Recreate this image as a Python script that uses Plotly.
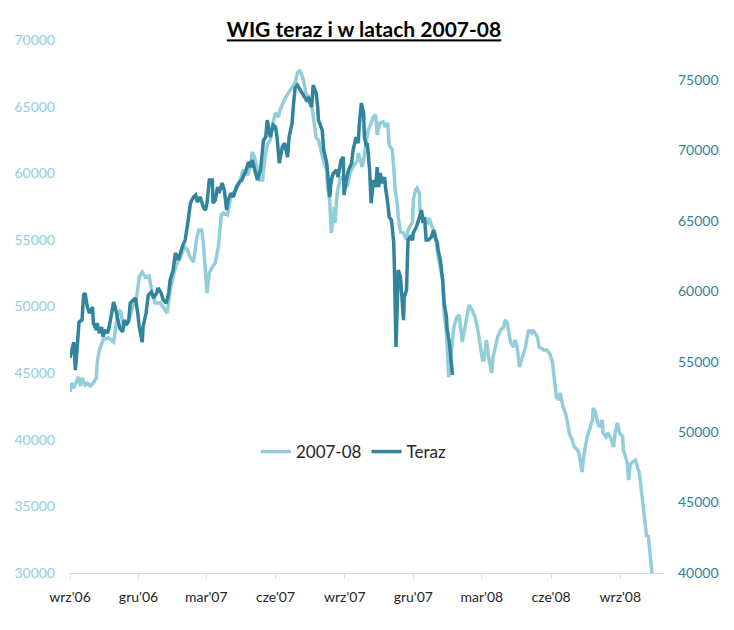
import pandas as pd
import plotly.graph_objects as go

# ---------------- data ----------------
start_date = "2006-09-01"

# 2007-08 series (left axis): day offset from start_date, WIG value
light_day = [
    0, 2, 5, 7, 11, 14, 16, 20, 23, 27,
    31, 35, 36, 39, 42, 44, 51, 58, 63, 67,
    71, 78, 83, 88, 92, 96, 100, 105, 109, 113,
    120, 124, 129, 133, 137, 141, 147, 152, 156, 160,
    164, 168, 171, 175, 177, 180, 182, 185, 189, 193,
    197, 201, 204, 209, 212, 214, 220, 224, 226, 230,
    236, 240, 242, 245, 249, 252, 256, 257, 260, 262,
    266, 269, 273, 277, 279, 283, 286, 290, 295, 299,
    302, 305, 307, 310, 313, 317, 319, 322, 325, 327,
    330, 335, 337, 341, 342, 345, 346, 347, 350, 351,
    352, 355, 359, 363, 368, 372, 376, 382, 383, 386,
    388, 390, 394, 396, 399, 403, 406, 408, 412, 416,
    419, 422, 424, 428, 430, 432, 435, 436, 439, 443,
    447, 449, 455, 456, 459, 461, 464, 465, 469, 475,
    477, 481, 485, 489, 495, 497, 500, 503, 505, 508,
    510, 514, 517, 520, 521, 524, 528, 530, 534, 538,
    541, 544, 548, 550, 553, 556, 560, 562, 565, 568,
    572, 576, 578, 581, 585, 589, 591, 594, 597, 601,
    605, 609, 613, 615, 621, 623, 629, 633, 637, 641,
    643, 646, 649, 651, 655, 658, 661, 663, 667, 670,
    674, 676, 680, 683, 687, 690, 694, 695, 698, 700,
    703, 707, 708, 712, 715, 719, 722, 724, 727, 730,
    734, 735, 738, 740, 742, 744, 747, 751, 754, 756,
    760, 763, 766, 768, 771, 773,
]
light_val = [
    43580, 44260, 43880, 44110, 44710, 44030, 44640, 44110, 44260, 44030,
    44260, 44640, 45760, 46730, 47110, 47490, 47640, 47340, 49360, 49740,
    48460, 48840, 49960, 50490, 52220, 52590, 52220, 52290, 51090, 50260,
    50260, 49960, 49510, 51240, 52220, 53120, 53720, 54470, 54240, 53640,
    53340, 55000, 55740, 55740, 54850, 52970, 51010, 52520, 52970, 53270,
    54470, 56870, 57020, 56870, 57620, 58370, 58750, 59120, 59500, 60250,
    59870, 60620, 61600, 61220, 60250, 59500, 59500, 60250, 61520, 62120,
    62500, 63630, 64530, 64230, 64750, 65280, 65650, 66020, 66480, 66770,
    67530, 67680, 67530, 66990, 66100, 65500, 65280, 64750, 63470, 62650,
    62500, 61220, 60850, 60250, 58970, 57990, 56720, 55520, 56720, 57470,
    56270, 58520, 59720, 59500, 58970, 60020, 60470, 61000, 61520, 61000,
    60470, 61000, 62500, 63250, 63630, 64230, 64380, 62880, 63780, 63860,
    63470, 63780, 62120, 61750, 60400, 58750, 57620, 56720, 55600, 55520,
    55000, 55740, 56350, 57990, 58750, 58900, 58520, 57100, 56500, 56270,
    56650, 55970, 55520, 53720, 52000, 49510, 48010, 44710, 45760, 47260,
    48460, 49210, 49360, 47860, 47340, 48240, 49740, 50110, 49740, 49210,
    48460, 47260, 45990, 45990, 47490, 46210, 45010, 46210, 46960, 47710,
    48240, 48460, 48990, 48760, 47340, 46960, 47490, 46960, 45460, 46210,
    46960, 48240, 48010, 48240, 47710, 46960, 46730, 46730, 46510, 45760,
    44710, 43210, 42980, 43510, 42460, 42010, 41260, 40510, 39990, 39460,
    39240, 39010, 37580, 39010, 40210, 40730, 41480, 42380, 42080, 41480,
    40960, 41480, 40510, 40210, 40510, 39990, 39460, 40510, 41260, 40510,
    40210, 39240, 38710, 38330, 36980, 38110, 38330, 38480, 37880, 37580,
    35700, 34350, 32700, 32850, 31130, 30000,
]

# "Teraz" series (right axis)
dark_day = [
    0, 3, 5, 6, 7, 8, 10, 12, 16, 18,
    20, 23, 26, 30, 31, 35, 36, 39, 42, 44,
    46, 50, 52, 56, 58, 60, 63, 66, 70, 72,
    75, 78, 80, 84, 87, 90, 92, 96, 97, 101,
    104, 108, 111, 115, 117, 121, 124, 128, 131, 133,
    137, 140, 144, 149, 153, 157, 160, 164, 167, 169,
    173, 177, 180, 182, 185, 189, 190, 193, 196, 198,
    202, 205, 208, 210, 214, 217, 221, 224, 228, 230,
    234, 237, 240, 242, 246, 249, 253, 257, 260, 262,
    266, 270, 273, 275, 278, 282, 285, 289, 291, 295,
    297, 299, 302, 306, 310, 314, 317, 321, 323, 327,
    329, 330, 335, 337, 341, 342, 345, 346, 348, 350,
    354, 356, 360, 363, 364, 367, 370, 374, 376, 380,
    383, 384, 387, 390, 391, 394, 395, 398, 400, 403,
    406, 408, 410, 412, 415, 418, 419, 422, 424, 427,
    430, 431, 432, 433, 435, 436, 439, 441, 443, 444,
    447, 448, 449, 452, 455, 456, 460, 463, 467, 469,
    471, 473, 476, 480, 483, 485, 488, 489, 492, 495,
    497, 500, 501, 504, 506, 508,
]
dark_val = [
    55270, 55830, 56400, 55620, 54410, 54910, 56760, 57820, 57960, 59740,
    59880, 58890, 58460, 58890, 57750, 57250, 57750, 57040, 57470, 56760,
    57250, 57040, 57470, 58460, 59240, 58890, 58180, 57400, 57110, 57960,
    57610, 57960, 59170, 59380, 59530, 58460, 57470, 56400, 57470, 58460,
    59740, 59950, 59530, 59880, 60240, 59880, 59380, 59170, 59880, 60800,
    61510, 62720, 62220, 63150, 63640, 65060, 66270, 66700, 66840, 66340,
    66700, 65990, 65770, 66270, 67900, 67900, 66270, 66480, 67410, 66980,
    67690, 67190, 65770, 66480, 66980, 66700, 67410, 67690, 67900, 68120,
    68610, 69180, 68830, 69320, 68610, 67900, 68610, 70740, 70960, 72160,
    70960, 71810, 71670, 70960, 69110, 70250, 70530, 69540, 70960, 71950,
    73370, 74440, 74650, 74290, 73940, 73580, 73720, 73090, 74650, 74080,
    73090, 72160, 71450, 70030, 69110, 68610, 66700, 67410, 68120, 68400,
    68610, 68120, 69320, 69540, 66840, 67900, 68610, 69110, 70030, 70960,
    70530, 71670, 73370, 72660, 70960, 70250, 70530, 68610, 66270, 67900,
    67410, 68830, 67410, 68400, 67690, 68120, 67410, 66270, 65280, 65060,
    63430, 61510, 59170, 56050, 59600, 61510, 61020, 59170, 57960, 59600,
    60090, 62010, 63640, 63860, 63640, 64140, 64570, 65060, 65770, 64850,
    65280, 63640, 63640, 63860, 64350, 63860, 63430, 62930, 62220, 60800,
    59170, 58180, 57250, 56330, 55120, 54060,
]

tick_dates = ["2006-09-01", "2006-12-01", "2007-03-01", "2007-06-01", "2007-09-01",
              "2007-12-01", "2008-03-01", "2008-06-01", "2008-09-01"]
tick_labels = ["wrz'06", "gru'06", "mar'07", "cze'07", "wrz'07",
               "gru'07", "mar'08", "cze'08", "wrz'08"]

series_names = ["2007-08", "Teraz"]
title_text = "WIG teraz i w latach 2007-08"

# ---------------- figure ----------------
LIGHT = "#92CDDC"
DARK = "#31849B"
FONT = "Lato"

t0 = pd.Timestamp(start_date)
light_x = t0 + pd.to_timedelta(light_day, unit="D")
dark_x = t0 + pd.to_timedelta(dark_day, unit="D")

fig = go.Figure()
fig.add_trace(go.Scatter(x=light_x, y=light_val, mode="lines", name=series_names[0],
                         line=dict(color=LIGHT, width=3.5), yaxis="y"))
fig.add_trace(go.Scatter(x=dark_x, y=dark_val, mode="lines", name=series_names[1],
                         line=dict(color=DARK, width=3.5), yaxis="y2"))

fig.update_layout(
    width=726, height=622,
    margin=dict(l=62, r=70, t=32, b=57, autoexpand=False),
    paper_bgcolor="white", plot_bgcolor="white",
    font=dict(family=FONT, size=14, color="#262626"),
    title=dict(text="<b><u>" + title_text + "</u></b>", x=0.4904, xanchor="center",
               y=0.9646, yanchor="middle", font=dict(family=FONT, size=21, color="black")),
    xaxis=dict(type="date", range=["2006-09-01", "2008-10-29"],
               tickvals=tick_dates, ticktext=tick_labels,
               showline=True, linecolor="#d9d9d9", linewidth=1,
               ticks="outside", tickcolor="#d9d9d9", ticklen=5,
               showgrid=False, zeroline=False,
               tickfont=dict(family=FONT, size=14, color="#262626"),
               ticklabelstandoff=6, automargin=False),
    yaxis=dict(range=[30000, 70000], dtick=5000, showgrid=False, zeroline=False,
               showline=False, ticks="", tickformat="d",
               tickfont=dict(family=FONT, size=14, color=LIGHT),
               ticklabelstandoff=14, automargin=False),
    yaxis2=dict(range=[40000, 77850], tickvals=[40000, 45000, 50000, 55000, 60000, 65000, 70000, 75000],
                overlaying="y", side="right", showgrid=False, zeroline=False,
                showline=False, ticks="", tickformat="d",
                tickfont=dict(family=FONT, size=14, color=DARK),
                ticklabelstandoff=13, automargin=False),
    legend=dict(orientation="h", x=0.478, xanchor="center", y=0.227, yanchor="middle",
                font=dict(family=FONT, size=17, color="#262626"),
                bgcolor="rgba(0,0,0,0)", itemwidth=30, tracegroupgap=0),
    showlegend=True,
)

fig.write_html("out.html")
